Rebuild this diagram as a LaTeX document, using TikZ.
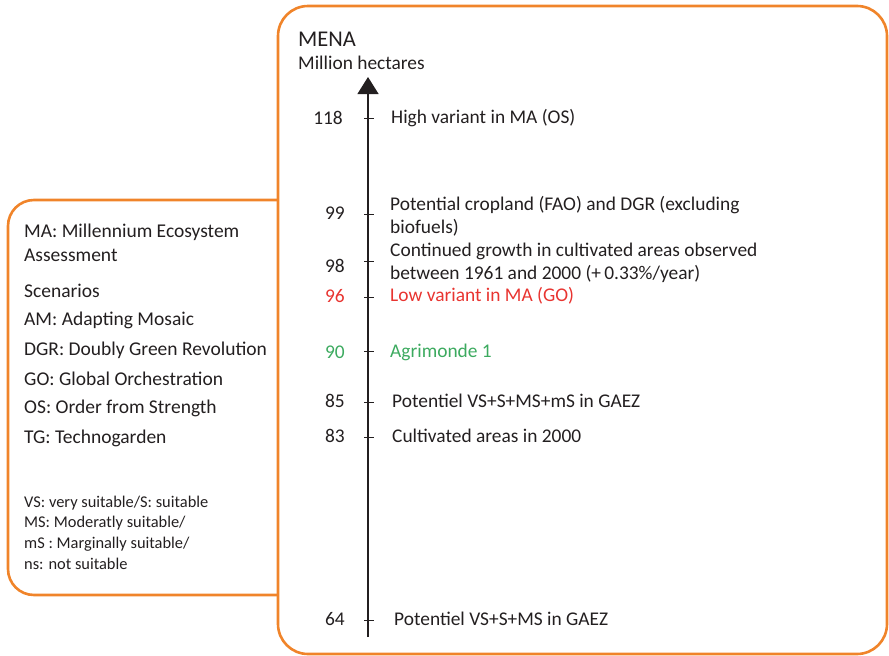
\documentclass[tikz,border=0pt]{standalone}
\usepackage{fontspec}
\setmainfont{Carlito}
\usetikzlibrary{arrows.meta}
\definecolor{boxorange}{RGB}{240,132,42}
\definecolor{txtred}{RGB}{232,52,48}
\definecolor{txtgreen}{RGB}{60,170,95}
\definecolor{txtgrey}{RGB}{35,31,32}
\begin{document}
\begin{tikzpicture}[x=1pt,y=-1pt,
  frame/.style={draw=boxorange,line width=2.6pt},
  num/.style={anchor=east,inner sep=0pt,font=\fontsize{19.4}{23}\selectfont,text=txtgrey},
  lab/.style={anchor=west,inner sep=0pt,align=left,font=\fontsize{19.4}{23}\selectfont,text=txtgrey},
  leg/.style={anchor=west,inner sep=0pt,font=\fontsize{19.5}{23}\selectfont,text=txtgrey},
  legs/.style={anchor=west,inner sep=0pt,font=\fontsize{16.4}{19}\selectfont,text=txtgrey},
  tickmark/.style={line width=0.8pt,draw=txtgrey},
  axisline/.style={line width=1.3pt,draw=txtgrey,-{Triangle[width=21pt,length=17pt]}}]
\useasboundingbox (0,0) rectangle (889,656);
% frames
\draw[frame,rounded corners=30pt] (278,6) rectangle (887,654);
\draw[frame,rounded corners=26pt] (278,200) -- (8,200) -- (8,595) -- (278,595);
% title
\node[anchor=west,inner sep=0pt,font=\fontsize{22.5}{26}\selectfont,text=txtgrey] (mena) at (298,39) {MENA};
\node[anchor=west,inner sep=0pt,font=\fontsize{19.4}{23}\selectfont,text=txtgrey] (unit) at (298,63) {Million hectares};
% axis
\coordinate (axbot) at (368,637);
\coordinate (axtop) at (368,77);
\draw[axisline] (axbot) -- (axtop);
% ticks
\foreach \y/\n in {118/t118,214/t99,261/t98,297/t96,351/t90,402/t85,437/t83,620/t64}{
  \coordinate (\n) at (368,\y);
  \draw[tickmark] ([xshift=-4pt]\n) -- ([xshift=6pt]\n);
}
% numbers
\node[num] (n118) at (343,118) {118};
\node[num] (n99) at (345,213) {99};
\node[num] (n98) at (345,266) {98};
\node[num,text=txtred] (n96) at (345,296) {96};
\node[num,text=txtgreen] (n90) at (345,352) {90};
\node[num] (n85) at (345,401) {85};
\node[num] (n83) at (345,436) {83};
\node[num] (n64) at (345,619) {64};
% labels
\node[lab] (l118) at (391,118) {High variant in MA (OS)};
\node[lab] (l99) at (390,216) {Potential cropland (FAO) and DGR (excluding\\biofuels)};
\node[lab] (l98) at (390,263) {Continued growth in cultivated areas observed\\between 1961 and 2000 (+\,0.33\%/year)};
\node[lab,text=txtred] (l96) at (390,296) {Low variant in MA (GO)};
\node[lab,text=txtgreen] (l90) at (390,352) {Agrimonde 1};
\node[lab] (l85) at (392,401) {Potentiel VS+S+MS+mS in GAEZ};
\node[lab] (l83) at (392,436) {Cultivated areas in 2000};
\node[lab] (l64) at (394,619) {Potentiel VS+S+MS in GAEZ};
% legend
\node[leg] (g1) at (24,232) {MA: Millennium Ecosystem};
\node[leg] (g2) at (24,255) {Assessment};
\node[leg] (g3) at (24,291) {Scenarios};
\node[leg] (g4) at (24,320) {AM: Adapting Mosaic};
\node[leg] (g5) at (24,350) {DGR: Doubly Green Revolution};
\node[leg] (g6) at (24,379) {GO: Global Orchestration};
\node[leg] (g7) at (24,408) {OS: Order from Strength};
\node[leg] (g8) at (24,438) {TG: Technogarden};
\node[legs] (s1) at (24,503) {VS: very suitable/S: suitable};
\node[legs] (s2) at (24,523) {MS: Moderatly suitable/};
\node[legs] (s3) at (24,544) {mS : Marginally suitable/};
\node[legs] (s4) at (24,564) {ns: not suitable};
\end{tikzpicture}
\end{document}
